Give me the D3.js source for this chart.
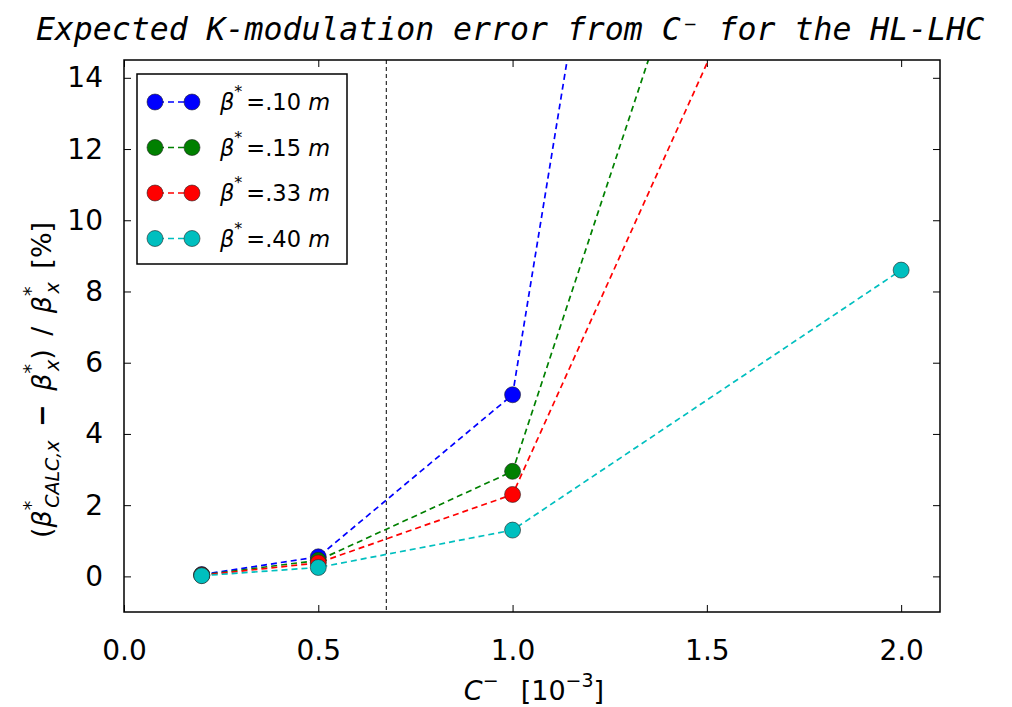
<!DOCTYPE html>
<html>
<head>
<meta charset="utf-8">
<script src="https://cdn.jsdelivr.net/npm/d3@7"></script>
<style>
  body { margin: 0; background: #fff; }
  svg text { font-family: "DejaVu Sans", sans-serif; }
</style>
</head>
<body>
<div id="chart"></div>
<script>
// data
var cMinus = [0.2, 0.5, 1.0, 2.0];
var labels = [".10", ".15", ".33", ".40"];
var colors = ["#0000ff", "#008000", "#ff0000", "#00bfbf"];
var err10 = [0.05, 0.55, 5.1, 72];
var err15 = [0.04, 0.45, 2.95, 36];
var err33 = [0.03, 0.38, 2.3, 26.5];
var err40 = [0.02, 0.25, 1.3, 8.6];
var series = [err10, err15, err33, err40];
var xTicks = [0.0, 0.5, 1.0, 1.5, 2.0];
var yTicks = [0, 2, 4, 6, 8, 10, 12, 14];
var vLine = 0.675;

var W = 1012, H = 707;
var margin = {top: 60, right: 72, bottom: 95, left: 124},
    width = W - margin.left - margin.right,
    height = H - margin.top - margin.bottom;

var svg = d3.select("#chart").append("svg")
  .attr("width", W)
  .attr("height", H);

// title
svg.append("text")
  .attr("x", 510).attr("y", 40)
  .attr("text-anchor", "middle")
  .style("font-family", "'DejaVu Sans Mono', monospace")
  .style("font-style", "italic")
  .style("font-size", "31.5px")
  .text("Expected K-modulation error from C\u207B  for the HL-LHC");

var g = svg.append("g")
  .attr("transform", "translate(" + margin.left + "," + margin.top + ")");

var x = d3.scaleLinear().domain([0, 2.1]).range([0, width]);
var y = d3.scaleLinear().domain([-1, 14.5]).range([height, 0]);

g.append("defs").append("clipPath").attr("id", "clip")
  .append("rect").attr("width", width).attr("height", height);

// axes, ticks inward on all four sides
var axB = g.append("g").attr("transform", "translate(0," + height + ")")
  .call(d3.axisBottom(x).tickValues(xTicks).tickSize(-7).tickPadding(28).tickFormat(d3.format(".1f")));
var axT = g.append("g")
  .call(d3.axisTop(x).tickValues(xTicks).tickSize(-7).tickFormat(""));
var axL = g.append("g")
  .call(d3.axisLeft(y).tickValues(yTicks).tickSize(-7).tickPadding(21).tickFormat(d3.format("d")));
var axR = g.append("g").attr("transform", "translate(" + width + ",0)")
  .call(d3.axisRight(y).tickValues(yTicks).tickSize(-7).tickFormat(""));

[axB, axT, axL, axR].forEach(function(a) {
  a.select(".domain").remove();
  a.selectAll(".tick line").attr("stroke", "#000").attr("stroke-width", 1);
  a.selectAll(".tick text").style("font-size", "28px").attr("fill", "#000")
    .style("font-family", "'DejaVu Sans', sans-serif");
});

// vertical reference line
g.append("line")
  .attr("x1", x(vLine)).attr("x2", x(vLine))
  .attr("y1", 0).attr("y2", height)
  .attr("stroke", "#000").attr("stroke-width", 1)
  .attr("stroke-dasharray", "4,3");

var line = d3.line()
  .x(function(d, i) { return x(cMinus[i]); })
  .y(function(d) { return y(d); });

var plot = g.append("g").attr("clip-path", "url(#clip)");

plot.selectAll(".line").data(series).enter()
  .append("path")
  .attr("class", "line")
  .attr("d", function(d) { return line(d); })
  .attr("fill", "none")
  .attr("stroke", function(d, i) { return colors[i]; })
  .attr("stroke-width", 1.7)
  .attr("stroke-dasharray", "6,4");

series.forEach(function(s, k) {
  plot.selectAll(".pt" + k).data(s).enter()
    .append("circle")
    .attr("cx", function(d, i) { return x(cMinus[i]); })
    .attr("cy", function(d) { return y(d); })
    .attr("r", 8)
    .attr("fill", colors[k])
    .attr("stroke", "#222")
    .attr("stroke-width", 0.6);
});

// frame
g.append("rect")
  .attr("width", width).attr("height", height)
  .attr("fill", "none").attr("stroke", "#000").attr("stroke-width", 1.5);

// legend
var lg = g.append("g").attr("transform", "translate(13,14)");
lg.append("rect").attr("width", 210).attr("height", 190)
  .attr("fill", "#fff").attr("stroke", "#000").attr("stroke-width", 1.5);

labels.forEach(function(lab, i) {
  var row = lg.append("g").attr("transform", "translate(0," + (28 + i * 45.5) + ")");
  row.append("line").attr("x1", 18).attr("x2", 55).attr("y1", 0).attr("y2", 0)
    .attr("stroke", colors[i]).attr("stroke-width", 1.7).attr("stroke-dasharray", "6,4")
    .attr("stroke-dashoffset", -3);
  [18, 55].forEach(function(cx) {
    row.append("circle").attr("cx", cx).attr("cy", 0).attr("r", 8)
      .attr("fill", colors[i]).attr("stroke", "#222").attr("stroke-width", 0.6);
  });
  var t = row.append("text").attr("x", 83).attr("y", 8).style("font-size", "22.5px");
  t.append("tspan").style("font-style", "italic").text("\u03B2");
  t.append("tspan").attr("dy", -13).style("font-size", "16px").text("*");
  t.append("tspan").attr("dy", 13).attr("dx", 4).text("=" + lab + " ");
  t.append("tspan").style("font-style", "italic").text("m");
});

// x label
var xl = svg.append("text")
  .attr("x", 534).attr("y", 700)
  .attr("text-anchor", "middle")
  .style("font-size", "27px");
xl.append("tspan").style("font-style", "italic").text("C");
xl.append("tspan").attr("dy", -13).style("font-size", "19px").text("\u2212");
xl.append("tspan").attr("dy", 13).text("\u2002 [10");
xl.append("tspan").attr("dy", -13).style("font-size", "19px").text("\u22123");
xl.append("tspan").attr("dy", 13).text("]");

// y label
var yl = svg.append("text")
  .attr("transform", "translate(51,380) rotate(-90)")
  .attr("text-anchor", "middle")
  .style("font-size", "27px");
yl.append("tspan").text("(");
yl.append("tspan").style("font-style", "italic").text("\u03B2");
yl.append("tspan").attr("dy", -14).style("font-size", "19px").text("*");
yl.append("tspan").attr("dy", 22).attr("dx", -7).style("font-size", "19px").style("font-style", "italic").text("CALC,x");
yl.append("tspan").attr("dy", -8).style("font-weight", "bold").text("\u2002\u2212\u2002");
yl.append("tspan").style("font-style", "italic").text("\u03B2");
yl.append("tspan").attr("dy", -14).style("font-size", "19px").text("*");
yl.append("tspan").attr("dy", 22).attr("dx", -7).style("font-size", "19px").style("font-style", "italic").text("x");
yl.append("tspan").attr("dy", -8).text(")\u2002/\u2002");
yl.append("tspan").style("font-style", "italic").text("\u03B2");
yl.append("tspan").attr("dy", -14).style("font-size", "19px").text("*");
yl.append("tspan").attr("dy", 22).attr("dx", -7).style("font-size", "19px").style("font-style", "italic").text("x");
yl.append("tspan").attr("dy", -8).text("\u2002[%]");
</script>
</body>
</html>
